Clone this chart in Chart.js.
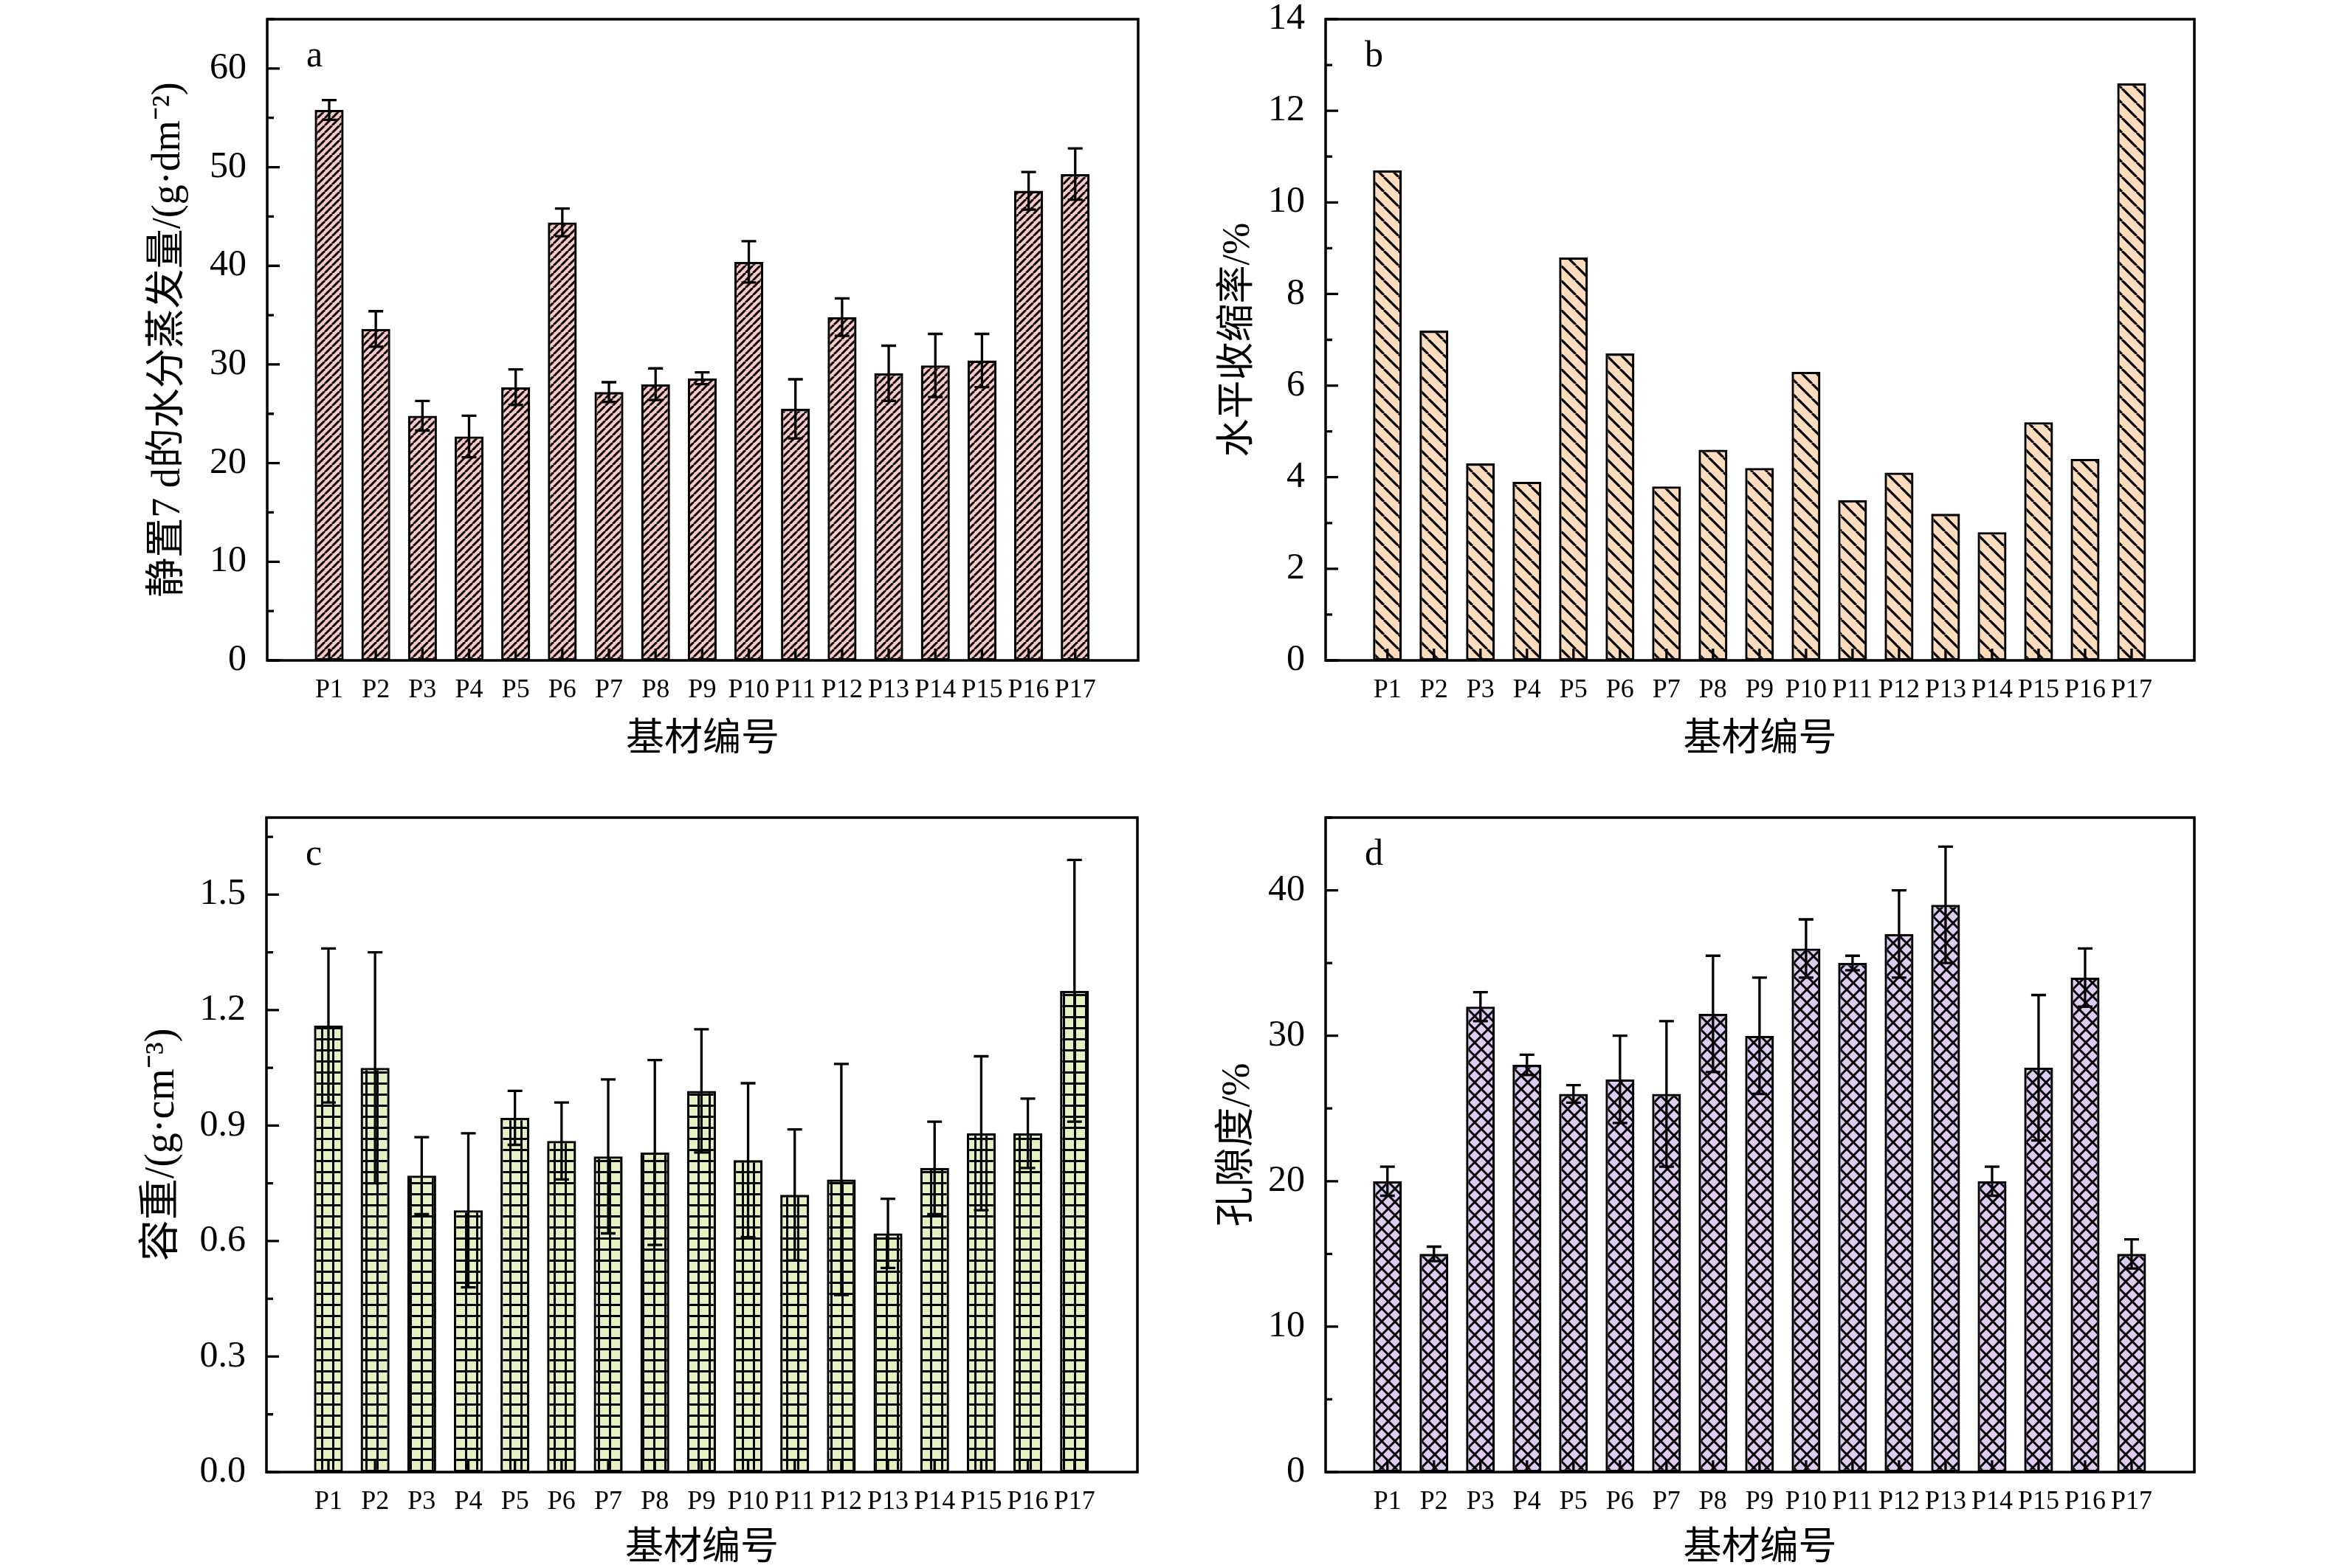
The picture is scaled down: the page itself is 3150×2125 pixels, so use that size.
<!DOCTYPE html>
<html>
<head>
<meta charset="utf-8">
<script src="https://cdn.jsdelivr.net/npm/chart.js@4.4.1/dist/chart.umd.min.js"></script>
<style>
    body { margin: 0; background: #fff; width: 3150px; height: 2125px; position: relative; overflow: hidden; }
    canvas { position: absolute; }
</style>
</head>
<body>
<canvas id="chartA" width="1575" height="1062" style="left:0px;top:0px"></canvas>
<canvas id="chartB" width="1575" height="1062" style="left:1575px;top:0px"></canvas>
<canvas id="chartC" width="1575" height="1063" style="left:0px;top:1062px"></canvas>
<canvas id="chartD" width="1575" height="1063" style="left:1575px;top:1062px"></canvas>
<script>
// Substrate samples
const categories = ['P1', 'P2', 'P3', 'P4', 'P5', 'P6', 'P7', 'P8', 'P9', 'P10', 'P11', 'P12', 'P13', 'P14', 'P15', 'P16', 'P17'];

// a: water evaporation after 7 d (g/dm2)
const evaporation = [55.8, 33.6, 24.8, 22.7, 27.7, 44.4, 27.2, 28.0, 28.6, 40.4, 25.5, 34.8, 29.1, 29.9, 30.4, 47.6, 49.3];
const evaporationErr = [1.0, 1.8, 1.5, 2.1, 1.8, 1.4, 1.0, 1.6, 0.6, 2.1, 3.0, 1.9, 2.8, 3.2, 2.7, 1.9, 2.6];
const evaporationTicks = [0, 10, 20, 30, 40, 50, 60];

// b: horizontal shrinkage (%)
const shrinkage = [10.7, 7.2, 4.3, 3.9, 8.8, 6.7, 3.8, 4.6, 4.2, 6.3, 3.5, 4.1, 3.2, 2.8, 5.2, 4.4, 12.6];
const shrinkageTicks = [0, 2, 4, 6, 8, 10, 12, 14];

// c: bulk density (g/cm3)
const bulkDensity = [1.16, 1.05, 0.77, 0.68, 0.92, 0.86, 0.82, 0.83, 0.99, 0.81, 0.72, 0.76, 0.62, 0.79, 0.88, 0.88, 1.25];
const bulkDensityErr = [0.20, 0.30, 0.10, 0.20, 0.07, 0.10, 0.20, 0.24, 0.16, 0.20, 0.17, 0.30, 0.09, 0.12, 0.20, 0.09, 0.34];
const bulkDensityTicks = [0, 0.3, 0.6, 0.9, 1.2, 1.5];

// d: porosity (%)
const porosity = [20, 15, 32, 28, 26, 27, 26, 31.5, 30, 36, 35, 37, 39, 20, 27.8, 34, 15];
const porosityErr = [1, 0.5, 1, 0.7, 0.6, 3, 5, 4, 4, 2, 0.5, 3, 4, 1, 5, 2, 1];
const porosityTicks = [0, 10, 20, 30, 40];

const FONT = '"Liberation Serif", "Noto Sans CJK SC", serif';

// hatch fills for the bars
function makePattern(kind, bg) {
    const sizes = { fwd: 10, back: 20, grid: 15, cross: 18 };
    const s = sizes[kind];
    const c = document.createElement('canvas');
    c.width = s; c.height = s;
    const g = c.getContext('2d');
    g.fillStyle = bg;
    g.fillRect(0, 0, s, s);
    g.strokeStyle = '#000';
    g.fillStyle = '#000';
    if (kind === 'grid') {
        g.fillRect(0, 0, 3, s);
        g.fillRect(0, 0, s, 3);
    } else {
        g.lineWidth = kind === 'fwd' ? 3 : (kind === 'back' ? 3.2 : 3);
        g.beginPath();
        for (const o of [-s, 0, s]) {
            if (kind === 'fwd' || kind === 'cross') { g.moveTo(o, s); g.lineTo(o + s, 0); }
            if (kind === 'back' || kind === 'cross') { g.moveTo(o, 0); g.lineTo(o + s, s); }
        }
        g.stroke();
    }
    return g.createPattern(c, 'repeat');
}

// frame, inward ticks, error bars and panel letter
const decoPlugin = {
    id: 'deco',
    afterDatasetsDraw(chart, args, o) {
        const { ctx, chartArea: a, scales: { x, y } } = chart;
        ctx.save();
        ctx.strokeStyle = '#000';
        ctx.lineWidth = 3.3;

        if (o.errors) {
            o.values.forEach((v, i) => {
                const px = x.getPixelForValue(i + 1);
                const hi = y.getPixelForValue(v + o.errors[i]);
                const lo = y.getPixelForValue(v - o.errors[i]);
                ctx.beginPath();
                ctx.moveTo(px, hi); ctx.lineTo(px, lo);
                ctx.moveTo(px - 10, hi); ctx.lineTo(px + 10, hi);
                ctx.moveTo(px - 10, lo); ctx.lineTo(px + 10, lo);
                ctx.stroke();
            });
        }

        ctx.beginPath();
        x.ticks.forEach(t => {
            const px = x.getPixelForValue(t.value);
            ctx.moveTo(px, a.bottom); ctx.lineTo(px, a.bottom - 16);
        });
        const tv = o.ticks;
        const minor = (tv[1] - tv[0]) / 2;
        tv.forEach(v => {
            const py = y.getPixelForValue(v);
            ctx.moveTo(a.left, py); ctx.lineTo(a.left + 17, py);
            if (v + minor <= y.max + 1e-9) {
                const pm = y.getPixelForValue(v + minor);
                ctx.moveTo(a.left, pm); ctx.lineTo(a.left + 9, pm);
            }
        });
        ctx.stroke();

        ctx.lineWidth = 3.5;
        ctx.strokeRect(a.left, a.top, a.width, a.height);

        ctx.fillStyle = '#000';
        ctx.font = '50px ' + FONT;
        ctx.textAlign = 'left';
        ctx.textBaseline = 'alphabetic';
        ctx.fillText(o.letter, a.left + 53, a.top + 64);
        ctx.restore();
    }
};

function makeChart(p) {
    const canvas = document.getElementById(p.id);
    const W = canvas.width, H = canvas.height;
    return new Chart(canvas, {
        type: 'bar',
        data: {
            datasets: [{
                data: p.values.map((v, i) => ({ x: i + 1, y: v })),
                backgroundColor: makePattern(p.pattern, p.color),
                borderColor: '#000',
                borderWidth: 3.3,
                borderSkipped: false,
                barPercentage: 0.62,
                categoryPercentage: 1
            }]
        },
        options: {
            responsive: false,
            animation: false,
            devicePixelRatio: 1,
            layout: { padding: { left: 0, top: p.box.T, right: W - p.box.R, bottom: 0 } },
            plugins: {
                legend: { display: false },
                tooltip: { enabled: false },
                deco: { values: p.values, errors: p.errors, ticks: p.ticks, letter: p.letter }
            },
            scales: {
                x: {
                    type: 'linear',
                    min: 0.22,
                    max: 17.8,
                    grid: { display: false },
                    border: { display: false },
                    afterBuildTicks: ax => { ax.ticks = categories.map((c, i) => ({ value: i + 1 })); },
                    afterFit: ax => {
                        ax.height = H - p.box.B;
                        ax.paddingLeft = 0;
                        ax.paddingRight = 0;
                    },
                    ticks: {
                        autoSkip: false,
                        maxRotation: 0,
                        padding: 11,
                        color: '#000',
                        font: { family: FONT, size: 36 },
                        callback: v => categories[v - 1] || ''
                    },
                    title: {
                        display: true,
                        text: '基材编号',
                        color: '#000',
                        font: { family: FONT, size: 52, lineHeight: 1 },
                        padding: { top: 0, bottom: Math.max(0, H - 25 - p.box.B - p.xTitleGap) }
                    }
                },
                y: {
                    min: 0,
                    max: p.max,
                    grid: { display: false },
                    border: { display: false },
                    afterBuildTicks: ax => { ax.ticks = p.ticks.map(v => ({ value: v })); },
                    afterFit: ax => {
                        ax.width = p.box.L;
                        ax.paddingTop = 0;
                        ax.paddingBottom = 0;
                    },
                    ticks: {
                        padding: 20,
                        color: '#000',
                        font: { family: FONT, size: 50 },
                        callback: v => v.toFixed(p.decimals)
                    },
                    title: {
                        display: true,
                        text: p.title,
                        color: '#000',
                        font: { family: FONT, size: p.titleSize, lineHeight: 1 },
                        padding: { top: p.titleX - p.titleSize / 2, bottom: 0 }
                    }
                }
            }
        },
        plugins: [decoPlugin]
    });
}

makeChart({
    id: 'chartA', values: evaporation, errors: evaporationErr, ticks: evaporationTicks,
    max: 65, decimals: 0, title: '静置7 d的水分蒸发量/(g·dm⁻²)', titleSize: 54, letter: 'a',
    pattern: 'fwd', color: '#fbc9c5', box: { L: 362, R: 1542, T: 26, B: 895 }, titleX: 229, xTitleGap: 109
});
makeChart({
    id: 'chartB', values: shrinkage, errors: null, ticks: shrinkageTicks,
    max: 14, decimals: 0, title: '水平收缩率/%', titleSize: 52, letter: 'b',
    pattern: 'back', color: '#fcdcbd', box: { L: 221, R: 1398, T: 26, B: 895 }, titleX: 103, xTitleGap: 109
});
makeChart({
    id: 'chartC', values: bulkDensity, errors: bulkDensityErr, ticks: bulkDensityTicks,
    max: 1.7, decimals: 1, title: '容重/(g·cm⁻³)', titleSize: 56, letter: 'c',
    pattern: 'grid', color: '#e3f1c3', box: { L: 361, R: 1541, T: 46, B: 933 }, titleX: 220, xTitleGap: 105
});
makeChart({
    id: 'chartD', values: porosity, errors: porosityErr, ticks: porosityTicks,
    max: 45, decimals: 0, title: '孔隙度/%', titleSize: 54, letter: 'd',
    pattern: 'cross', color: '#ddcbf2', box: { L: 221, R: 1398, T: 46, B: 933 }, titleX: 103, xTitleGap: 105
});
</script>
</body>
</html>
